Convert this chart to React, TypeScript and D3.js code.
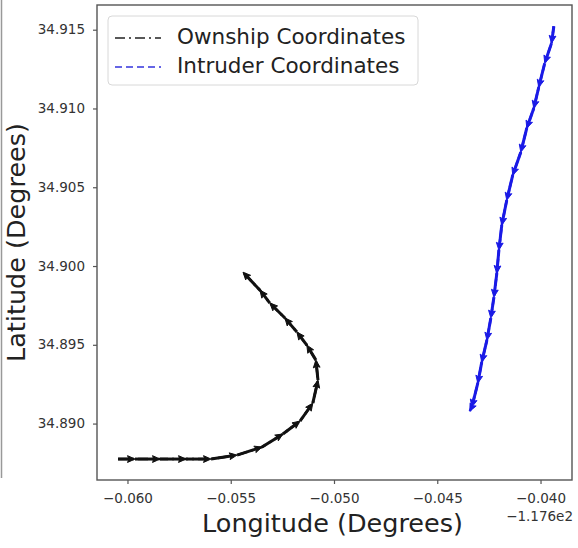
import React from "react";
import * as d3 from "d3";

// Longitudes are stored relative to the axis offset of -117.6 degrees.
const LON_OFFSET_LABEL = "\u22121.176e2";

const ownshipLon = [
  -0.06048, -0.05966, -0.05845, -0.05719, -0.05598, -0.05472, -0.05351,
  -0.0525, -0.05167, -0.05105, -0.0508, -0.0509, -0.05134, -0.05182,
  -0.0524, -0.05313, -0.05361, -0.05443,
];
const ownshipLat = [
  34.88778, 34.88778, 34.88778, 34.88778, 34.88778, 34.88803, 34.88854,
  34.88937, 34.89019, 34.89133, 34.89279, 34.89406, 34.89501, 34.89584,
  34.89673, 34.89768, 34.8985, 34.89964,
];

const intruderLon = [
  -0.03938, -0.03949, -0.03982, -0.04011, -0.04035, -0.04069, -0.04098,
  -0.04137, -0.04166, -0.0419, -0.04204, -0.04214, -0.04228, -0.04243,
  -0.04262, -0.04287, -0.04306, -0.04335, -0.04345,
];
const intruderLat = [
  34.91525, 34.91418, 34.91291, 34.91138, 34.91005, 34.90878, 34.90726,
  34.9058, 34.90421, 34.90263, 34.90104, 34.89958, 34.89806, 34.89673,
  34.89533, 34.89393, 34.8926, 34.89108, 34.89082,
];

const xTicks = [-0.06, -0.055, -0.05, -0.045, -0.04];
const yTicks = [34.89, 34.895, 34.9, 34.905, 34.91, 34.915];
const xDomain = [-0.0615, -0.0385];
const yDomain = [34.88645, 34.9166];

const seriesNames = ["Ownship Coordinates", "Intruder Coordinates"];

const W = 578;
const H = 548;
const M = { left: 97, right: 572, top: 5, bottom: 480 };
const FONT = "'DejaVu Sans', sans-serif";

type Pt = [number, number];

// Quiver-style arrows: a shaft from each point to the next, head at the next.
function Track({ pts, color }: { pts: Pt[]; color: string }) {
  const arrows = [];
  for (let i = 1; i < pts.length; i++) {
    const [x0, y0] = pts[i - 1];
    const [x1, y1] = pts[i];
    const a = Math.atan2(y1 - y0, x1 - x0);
    const L = 7.5;
    const hw = 3.4;
    const notch = 6;
    const c = Math.cos(a);
    const s = Math.sin(a);
    const bx = x1 - L * c;
    const by = y1 - L * s;
    const nx = x1 - notch * c;
    const ny = y1 - notch * s;
    const poly = [
      [x1, y1],
      [bx - hw * s, by + hw * c],
      [nx, ny],
      [bx + hw * s, by - hw * c],
    ]
      .map((p) => p.join(","))
      .join(" ");
    arrows.push(
      <g key={i}>
        <line
          x1={x0}
          y1={y0}
          x2={nx}
          y2={ny}
          stroke={color}
          strokeWidth={3}
        />
        <polygon points={poly} fill={color} stroke={color} strokeWidth={1} />
      </g>
    );
  }
  return <g>{arrows}</g>;
}

export default function App() {
  const x = d3.scaleLinear().domain(xDomain).range([M.left, M.right]);
  const y = d3.scaleLinear().domain(yDomain).range([M.bottom, M.top]);

  const own: Pt[] = ownshipLon.map((v, i) => [x(v), y(ownshipLat[i])]);
  const intr: Pt[] = intruderLon.map((v, i) => [x(v), y(intruderLat[i])]);
  const line = d3.line();

  const axisColor = "#555";
  const textColor = "#333";

  return (
    <svg
      width={W}
      height={H}
      style={{ position: "absolute", left: 0, top: 0, background: "#fff" }}
      fontFamily={FONT}
    >
      <rect x={0} y={0} width={W} height={H} fill="#fff" />
      <line x1={1.5} y1={0} x2={1.5} y2={478} stroke="#999" strokeWidth={1.5} />

      {/* tracks */}
      <path
        d={line(own) || ""}
        fill="none"
        stroke="#000"
        strokeWidth={2.5}
        strokeDasharray="10 4 2 4"
      />
      <Track pts={own} color="#111" />
      <path
        d={line(intr) || ""}
        fill="none"
        stroke="#1a1ae6"
        strokeWidth={2.5}
        strokeDasharray="7 3"
      />
      <Track pts={intr} color="#1a1ae6" />

      {/* frame */}
      <rect
        x={M.left}
        y={M.top}
        width={M.right - M.left}
        height={M.bottom - M.top}
        fill="none"
        stroke={axisColor}
        strokeWidth={1.4}
      />

      {/* x axis */}
      {xTicks.map((t) => (
        <g key={t} transform={`translate(${x(t)},${M.bottom})`}>
          <line y1={0} y2={4} stroke={axisColor} strokeWidth={1.2} />
          <text
            y={19}
            textAnchor="middle"
            dominantBaseline="middle"
            fontSize={13.5}
            fill={textColor}
          >
            {d3.format(".3f")(t).replace("-", "\u2212")}
          </text>
        </g>
      ))}
      <text
        x={M.right + 1}
        y={517}
        textAnchor="end"
        dominantBaseline="middle"
        fontSize={13.5}
        fill={textColor}
      >
        {LON_OFFSET_LABEL}
      </text>
      <text
        x={(M.left + M.right) / 2 - 2}
        y={532}
        textAnchor="middle"
        fontSize={25.5}
        fill="#222"
      >
        Longitude (Degrees)
      </text>

      {/* y axis */}
      {yTicks.map((t) => (
        <g key={t} transform={`translate(${M.left},${y(t)})`}>
          <line x1={-4} x2={0} stroke={axisColor} strokeWidth={1.2} />
          <text
            x={-12}
            textAnchor="end"
            dominantBaseline="middle"
            fontSize={13.5}
            fill={textColor}
          >
            {d3.format(".3f")(t)}
          </text>
        </g>
      ))}
      <text
        transform={`translate(25,${(M.top + M.bottom) / 2}) rotate(-90)`}
        textAnchor="middle"
        fontSize={25.5}
        fill="#222"
      >
        Latitude (Degrees)
      </text>

      {/* legend */}
      <g>
        <rect
          x={108}
          y={16}
          width={310}
          height={69}
          rx={4}
          fill="#fff"
          fillOpacity={0.9}
          stroke="#d8d8d8"
          strokeWidth={1}
        />
        <line
          x1={115}
          x2={161}
          y1={38}
          y2={38}
          stroke="#222"
          strokeWidth={1.6}
          strokeDasharray="10 4 2 4"
        />
        <text x={177} y={38} dominantBaseline="middle" fontSize={21.5} fill="#222">
          {seriesNames[0]}
        </text>
        <line
          x1={115}
          x2={161}
          y1={67}
          y2={67}
          stroke="#3333dd"
          strokeWidth={1.6}
          strokeDasharray="7 4"
        />
        <text x={177} y={67} dominantBaseline="middle" fontSize={21.5} fill="#222">
          {seriesNames[1]}
        </text>
      </g>
    </svg>
  );
}
